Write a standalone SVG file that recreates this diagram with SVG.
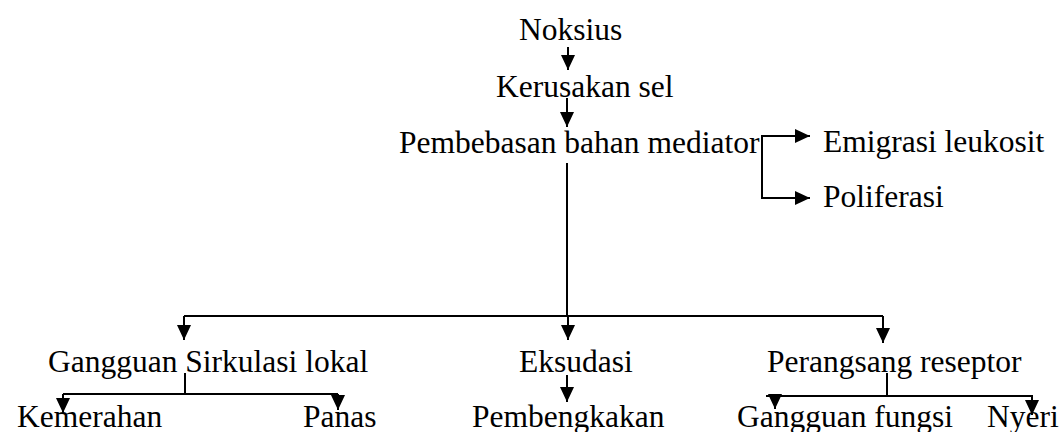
<svg xmlns="http://www.w3.org/2000/svg" width="1061" height="432" viewBox="0 0 1061 432">
<style>
text{font-family:"Liberation Serif","Times New Roman",serif;font-size:31.5px;fill:#000}
.c path{fill:none;stroke:#000;stroke-width:2}
</style>
<defs>
<marker id="ah" markerUnits="userSpaceOnUse" markerWidth="16" markerHeight="14" refX="15" refY="7" orient="auto">
<path d="M0,0 L15,7 L0,14 z" fill="#000"/>
</marker>
</defs>
<rect width="1061" height="432" fill="#fff"/>
<g id="n-noksius"><text x="519" y="40">Noksius</text></g>
<g id="n-kerusakan"><text x="496" y="97">Kerusakan sel</text></g>
<g id="n-pembebasan"><text x="399" y="153">Pembebasan bahan mediator</text></g>
<g id="n-emigrasi"><text x="823" y="152">Emigrasi leukosit</text></g>
<g id="n-poliferasi"><text x="823" y="207">Poliferasi</text></g>
<g id="n-gangguan-sirkulasi"><text x="48" y="372">Gangguan Sirkulasi lokal</text></g>
<g id="n-eksudasi"><text x="519" y="372">Eksudasi</text></g>
<g id="n-perangsang"><text x="767" y="372">Perangsang reseptor</text></g>
<g id="n-kemerahan"><text x="17" y="427">Kemerahan</text></g>
<g id="n-panas"><text x="303" y="427">Panas</text></g>
<g id="n-pembengkakan"><text x="472" y="427">Pembengkakan</text></g>
<g id="n-gangguan-fungsi"><text x="737" y="427">Gangguan fungsi</text></g>
<g id="n-nyeri"><text x="987" y="427">Nyeri</text></g>
<g id="connectors" class="c">
<path d="M568,47 V70" marker-end="url(#ah)"/>
<path d="M567,98 V127" marker-end="url(#ah)"/>
<path d="M567,163 V316"/>
<path d="M184,316 H883"/>
<path d="M184,316 V340" marker-end="url(#ah)"/>
<path d="M568,316 V340" marker-end="url(#ah)"/>
<path d="M883,316 V343" marker-end="url(#ah)"/>
<path d="M762,136 V198"/>
<path d="M761,136 H810" marker-end="url(#ah)"/>
<path d="M761,198 H810" marker-end="url(#ah)"/>
<path d="M185,373 V394"/>
<path d="M63,394 H338"/>
<path d="M63,394 V413" marker-end="url(#ah)"/>
<path d="M338,394 V410" marker-end="url(#ah)"/>
<path d="M567,375 V402" marker-end="url(#ah)"/>
<path d="M887,373 V396"/>
<path d="M766,396 H1033"/>
<path d="M775,396 V409" marker-end="url(#ah)"/>
<path d="M1032,396 V415" marker-end="url(#ah)"/>
</g>
</svg>
